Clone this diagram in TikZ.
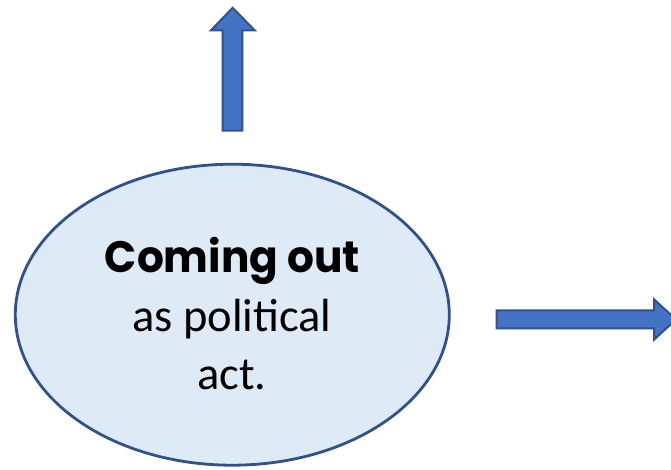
\documentclass[tikz,border=0pt]{standalone}
\usepackage{fontspec}
\setmainfont{Carlito}
\newfontfamily\headfont{Poppins}
\usetikzlibrary{shapes.geometric}

\definecolor{bubblefill}{RGB}{222,234,246}
\definecolor{edgeblue}{RGB}{47,82,143}
\definecolor{arrowblue}{RGB}{68,114,196}

\tikzset{
  bubble/.style={ellipse, draw=edgeblue, fill=bubblefill, line width=2.8pt,
    minimum width=434pt, minimum height=301pt, inner sep=0pt},
  blockarrow/.style={draw=edgeblue, fill=arrowblue, line width=2pt, line join=miter},
  headline/.style={anchor=base, inner sep=0pt,
    font=\headfont\bfseries\fontsize{44}{44}\selectfont},
  bodyline/.style={anchor=base, inner sep=0pt,
    font=\fontsize{46.5}{46.5}\selectfont},
}

\begin{document}
\begin{tikzpicture}[x=1pt,y=-1pt]
  \useasboundingbox (0,0) rectangle (671,469);
  \clip (0,0) rectangle (671,469);

  % central bubble
  \node[bubble] (act) at (232.3,314.7) {};

  % its three lines of text
  \node[headline] (title) at (232.3,272.7) {\scalebox{0.96}[1]{Coming out}};
  \node[bodyline] (line2) at (232,331.7) {as political};
  \node[bodyline] (line3) at (231.8,389.3) {act.};

  % block arrow pointing up
  \draw[blockarrow] (222.7,130.7) -- (222.7,30.3) -- (211,30.3) -- (232.6,7.8)
    -- (254.7,30.3) -- (242.3,30.3) -- (242.3,130.7) -- cycle;

  % block arrow pointing right
  \draw[blockarrow] (496.7,310.3) -- (654,310.3) -- (654,299.3) -- (676,319.5)
    -- (654,339.7) -- (654,328.3) -- (496.7,328.3) -- cycle;
\end{tikzpicture}
\end{document}
